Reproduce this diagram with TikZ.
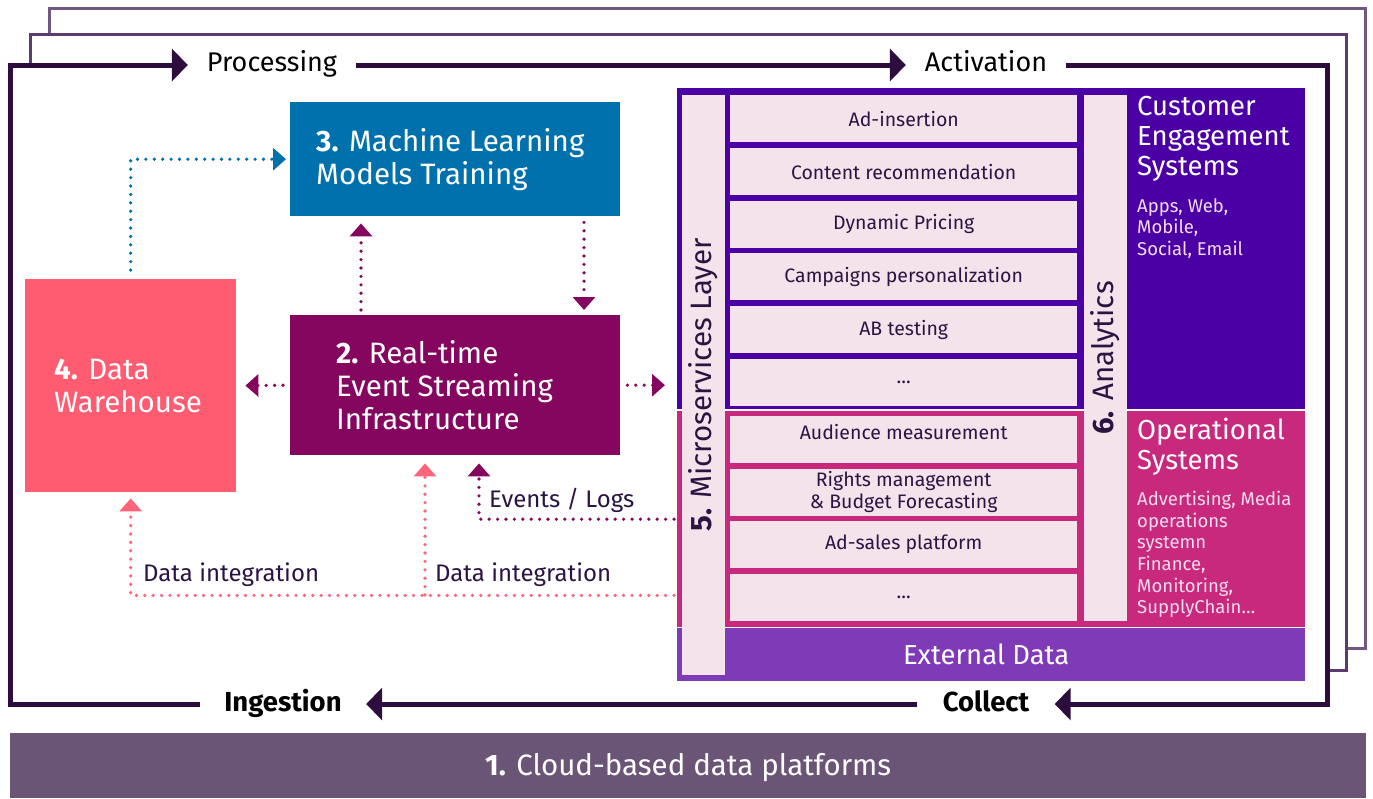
\documentclass[tikz,border=0pt]{standalone}
\usepackage{fontspec}
\setmainfont{Fira Sans}
\usetikzlibrary{arrows.meta}
\definecolor{framedark}{HTML}{2D0C3E}
\definecolor{framemid}{HTML}{5B3B70}
\definecolor{framelight}{HTML}{705883}
\definecolor{barcol}{HTML}{6B5577}
\definecolor{mlblue}{HTML}{0071AD}
\definecolor{rtmag}{HTML}{85065F}
\definecolor{dwcoral}{HTML}{FF5B71}
\definecolor{dicoral}{HTML}{FF6479}
\definecolor{cpurple}{HTML}{4B00A5}
\definecolor{cpink}{HTML}{C9297D}
\definecolor{cext}{HTML}{7F3AB7}
\definecolor{lpink}{HTML}{F5E3EB}
\definecolor{dtext}{HTML}{2B1442}
\definecolor{subtext}{HTML}{F2DCEE}
\begin{document}
\begin{tikzpicture}[x=1pt,y=-1pt,
  frameline/.style={line width=5pt, draw=framedark},
  backline/.style={line width=3pt},
  ftip/.style={-{Triangle[width=32pt,length=16pt]}},
  flabel/.style={font=\fontsize{27}{30}\selectfont, text=black, inner sep=0, text height=18pt, text depth=6pt},
  fbold/.style={font=\bfseries\fontsize{27.5}{30}\selectfont},
  blockbox/.style={anchor=north west, inner sep=0},
  blocktext/.style={anchor=west, align=left, text=white, inner sep=0, font=\fontsize{29.5}{33}\selectfont},
  dotline/.style={line width=3.6pt, dash pattern=on 0pt off 8.4pt, line cap=round},
  dtip/.style={-{Triangle[width=22pt,length=13pt]}},
  lbl/.style={anchor=west, inner sep=0, text=dtext, font=\fontsize{24}{28}\selectfont},
  region/.style={anchor=north west, inner sep=0, minimum width=628pt},
  item/.style={anchor=north west, inner sep=0, fill=lpink, minimum width=347pt, minimum height=47pt, text=dtext, align=center, font=\fontsize{19.5}{22}\selectfont},
  column/.style={fill=lpink, rotate=90, inner sep=0, minimum height=43pt, text=dtext, font=\fontsize{29.5}{32}\selectfont},
  systitle/.style={anchor=north west, inner sep=0, align=left, text=white, font=\fontsize{27.5}{30}\selectfont},
  syssub/.style={anchor=north west, inner sep=0, align=left, text=subtext, font=\fontsize{18.5}{21.6}\selectfont}
]
\useasboundingbox (0,0) rectangle (1373,798);

% back frames
\draw[backline, draw=framelight] (49,34) -- (49,8) -- (1365,8) -- (1365,648) -- (1346,648);
\draw[backline, draw=framemid] (30,65) -- (30,34) -- (1346,34) -- (1346,670) -- (1327,670);

% frame labels
\node[flabel, minimum width=168pt] (proc) at (272,65) {Processing};
\node[flabel, minimum width=160pt] (act) at (986,65) {Activation};
\node[flabel, fbold, minimum width=166pt] (ing) at (283,705) {Ingestion};
\node[flabel, fbold, minimum width=137pt] (col) at (986,705) {Collect};

\coordinate (ftl) at (10,65);
\coordinate (ftr) at (1327,65);
\coordinate (fbr) at (1327,704);
\coordinate (fbl) at (10,704);

\draw[frameline, ftip] (ing.west |- fbl) -- (fbl) -- (ftl) -- (proc.west);
\draw[frameline, ftip] (proc.east) -- (act.west);
\draw[frameline, ftip] (act.east) -- (ftr) -- (fbr) -- (col.east |- fbr);
\draw[frameline, ftip] (col.west |- fbr) -- (ing.east |- fbr);

% bottom bar
\node[blockbox, fill=barcol, minimum width=1356pt, minimum height=65pt] (bar) at (10,733) {};
\node[text=white, inner sep=0, text height=21pt, text depth=7pt, font=\fontsize{29.5}{33}\selectfont] (bart) at ([yshift=-3pt]bar.center) {\textbf{1.} Cloud-based data platforms};

% main blocks
\node[blockbox, fill=mlblue, minimum width=330pt, minimum height=114pt] (ml) at (290,102) {};
\node[blocktext] (mlt) at ([xshift=26pt]ml.west) {\textbf{3.} Machine Learning\\Models Training};
\node[blockbox, fill=rtmag, minimum width=330pt, minimum height=140pt] (rt) at (290,315) {};
\node[blocktext] (rtt) at ([xshift=46pt]rt.west) {\textbf{2.} Real-time\\Event Streaming\\Infrastructure};
\node[blockbox, fill=dwcoral, minimum width=211pt, minimum height=213pt] (dw) at (25,279) {};
\node[blocktext] (dwt) at ([xshift=29pt]dw.west) {\textbf{4.} Data\\Warehouse};

% right panel
\node[region, fill=cpurple, minimum height=321pt] (engage) at (677,88) {};
\node[region, fill=cpink, minimum height=216pt] (oper) at (677,411) {};
\node[region, fill=cext, minimum height=53pt] (ext) at (677,628) {};
\node[text=white, inner sep=0, font=\fontsize{27.5}{30}\selectfont] (extt) at ([xshift=-5pt]ext.center) {External Data};

\node[column, minimum width=580pt] (ms) at (703.5,385) {\textbf{5.} Microservices Layer};
\node[column, minimum width=526pt] (an) at (1105.5,358) {\textbf{6.} Analytics};

\node[item] (i1) at (730,95) {Ad-insertion};
\node[item] (i2) at (730,148) {Content recommendation};
\node[item] (i3) at (730,200.5) {Dynamic Pricing};
\node[item] (i4) at (730,253) {Campaigns personalization};
\node[item] (i5) at (730,306) {AB testing};
\node[item] (i6) at (730,358.5) {...};
\node[item] (i7) at (730,416) {};
\node[text=dtext, inner sep=0, font=\fontsize{19.5}{22}\selectfont] (i7t) at ([yshift=7.5pt]i7.center) {Audience measurement};
\node[item] (i8) at (730,468.5) {Rights management\\\& Budget Forecasting};
\node[item] (i9) at (730,521) {Ad-sales platform};
\node[item] (i10) at (730,574) {...};

\node[systitle] (cet) at (1137,96) {Customer\\Engagement\\Systems};
\node[syssub] (ces) at (1137,198) {Apps, Web,\\Mobile,\\Social, Email};
\node[systitle] (opt) at (1137,418) {Operational\\Systems};
\node[syssub] (ops) at (1137,491) {Advertising, Media\\operations\\systemn\\Finance,\\Monitoring,\\SupplyChain…};

% dotted connectors
\draw[dotline, color=mlblue, dtip, shorten <=9pt, shorten >=4pt] (dw.north) |- (ml.west);
\draw[dotline, color=rtmag, dtip, shorten <=5pt, shorten >=7pt] ([xshift=71pt]rt.north west) -- ([xshift=71pt]ml.south west);
\draw[dotline, color=rtmag, dtip, shorten <=6pt, shorten >=5pt] ([xshift=294pt]ml.south west) -- ([xshift=294pt]rt.north west);
\draw[dotline, color=rtmag, dtip, shorten <=7pt, shorten >=9pt] (rt.west) -- (dw.east);
\draw[dotline, color=rtmag, dtip, shorten <=7pt, shorten >=12pt] (rt.east) -- (engage.west |- rt.east);
\draw[dotline, color=rtmag, dtip, shorten <=3pt, shorten >=8pt] (oper.west) -| ([xshift=189pt]rt.south west);
\coordinate (dis) at ([yshift=32pt]oper.south west);
\coordinate (dibr) at (425,595);
\draw[dotline, color=dicoral, dtip, shorten <=3pt, shorten >=6pt] (dis) -| (dw.south);
\draw[dotline, color=dicoral, dtip, shorten >=8pt] (dibr) -- ([xshift=135pt]rt.south west);

\node[lbl] (evl) at (489,500) {Events / Logs};
\node[lbl] (di1) at (143,575) {Data integration};
\node[lbl] (di2) at (435,575) {Data integration};
\end{tikzpicture}
\end{document}
